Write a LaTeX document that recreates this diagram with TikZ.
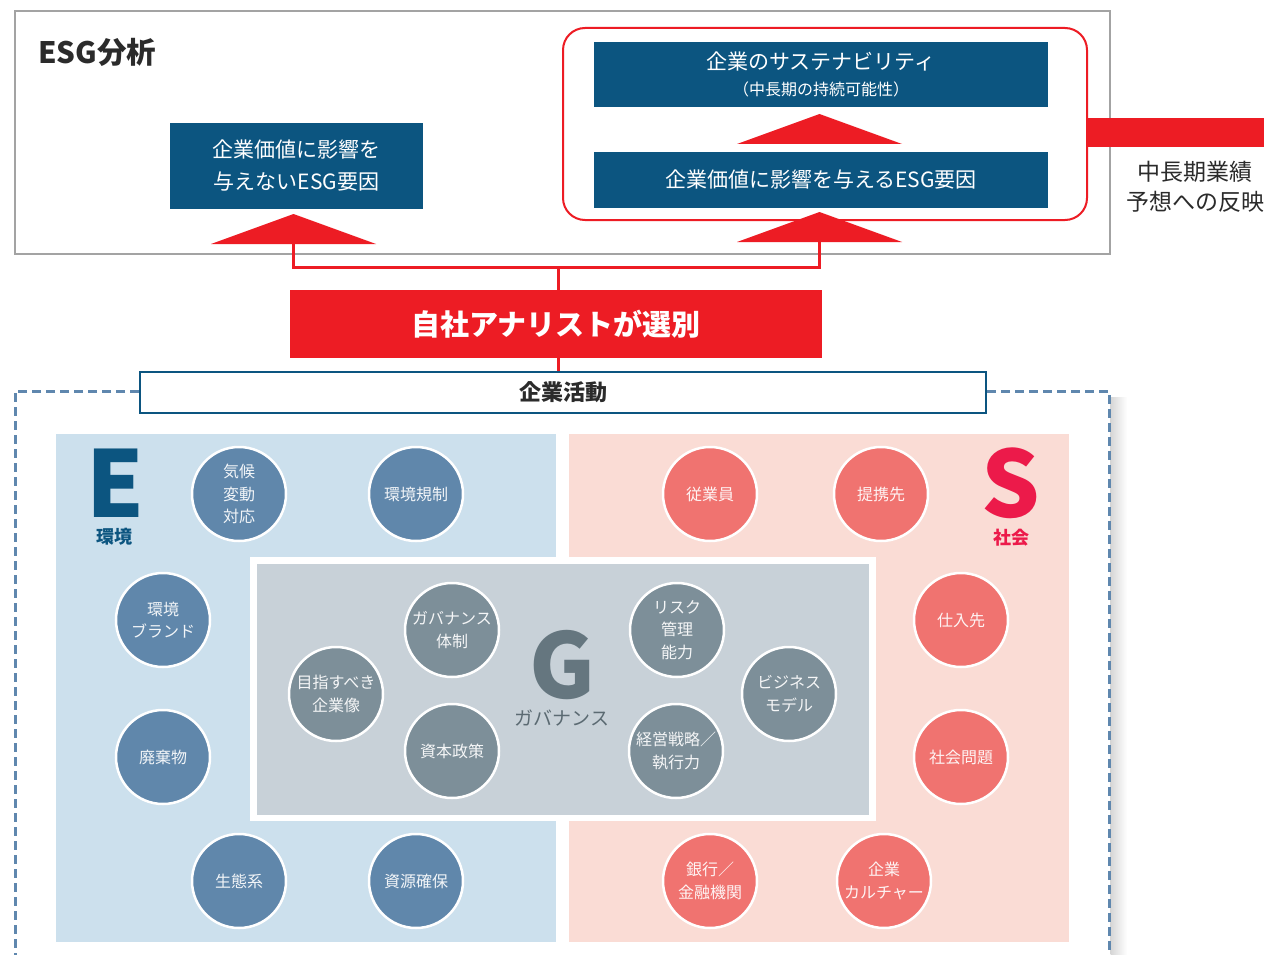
\documentclass[tikz,border=0pt]{standalone}
\usepackage{fontspec}
\setmainfont{Noto Sans CJK JP}
\definecolor{colNavy}{HTML}{0C5580}
\definecolor{colRed}{HTML}{ED1C24}
\definecolor{colFrame}{HTML}{A3A3A3}
\definecolor{colEbg}{HTML}{CCE0ED}
\definecolor{colEc}{HTML}{6087AB}
\definecolor{colSbg}{HTML}{FADCD5}
\definecolor{colSc}{HTML}{F07370}
\definecolor{colGbg}{HTML}{C8D1D8}
\definecolor{colGc}{HTML}{7D8F99}
\definecolor{colGl}{HTML}{65767F}
\definecolor{colSl}{HTML}{EC1A4A}
\definecolor{colDash}{HTML}{5F87AE}
\definecolor{colText}{HTML}{2B2B2B}
\begin{document}
\begin{tikzpicture}[x=1pt,y=-1pt,
  navybox/.style={fill=colNavy, text=white, inner sep=0pt, align=center, font=\fontsize{21}{32}\selectfont},
  circ/.style={circle, draw=white, line width=2.5pt, minimum size=94pt, inner sep=0pt, align=center, font=\fontsize{16}{22.5}\selectfont},
  ecircle/.style={circ, fill=colEc, text=white!92!colEc},
  scircle/.style={circ, fill=colSc, text=white!92!colSc},
  gcircle/.style={circ, fill=colGc, text=white!92!colGc},
  redline/.style={colRed, line width=3pt},
  dashline/.style={colDash, line width=3pt, dash pattern=on 9pt off 5pt}
]
\useasboundingbox (0,0) rectangle (1264,955);
\fill[white] (0,0) rectangle (1264,955);

% top area
\node[draw=colFrame, line width=2.5pt, minimum width=1095pt, minimum height=243pt, inner sep=0pt] (outer) at (562.5,132.5) {};
\node[anchor=west, font=\bfseries\fontsize{29.5}{29.5}\selectfont, text=colText, inner sep=0pt] (title) at (38,52) {ESG分析};
\node[draw=colRed, line width=2pt, rounded corners=22pt, minimum width=524pt, minimum height=192pt, inner sep=0pt] (redframe) at (825,124) {};
\node[navybox, minimum width=253pt, minimum height=86pt] (leftbox) at (296.5,166) {企業価値に影響を\\与えないESG要因};
\node[navybox, minimum width=454pt, minimum height=65pt] (topbox) at (821,74.5) {\fontsize{21}{21}\selectfont 企業のサステナビリティ\\[-6pt]\fontsize{16}{16}\selectfont （中長期の持続可能性）};
\node[navybox, minimum width=454pt, minimum height=56pt] (lowbox) at (821,180) {企業価値に影響を与えるESG要因};

% arrowheads
\fill[colRed] (211,244) -- (293.5,214) -- (376,244) -- cycle;
\fill[colRed] (737,144) -- (819.5,114) -- (902,144) -- cycle;
\fill[colRed] (737,242) -- (819.5,212) -- (902,242) -- cycle;

% right bar
\coordinate (barend) at (1264,132.5);
\draw[colRed, line width=29pt] (redframe.east |- barend) -- (barend);
\node[align=center, font=\fontsize{23}{30}\selectfont, text=colText, inner sep=0pt] (reflect) at (1195,187) {中長期業績\\予想への反映};

% selection
\node[fill=colRed, text=white, font=\bfseries\fontsize{29}{29}\selectfont, minimum width=532pt, minimum height=68pt, inner sep=0pt] (select) at (556,324) {自社アナリストが選別};
\node[draw=colNavy, line width=2pt, fill=white, minimum width=846pt, minimum height=41pt, inner sep=0pt, font=\bfseries\fontsize{22}{22}\selectfont, text=colText] (activity) at (563,392.5) {企業活動};

\coordinate (t1) at (293.5,244);
\coordinate (t3) at (819.5,242);
\coordinate (j) at (558.5,267);
\draw[redline] (t1) |- (j) -| (t3);
\draw[redline] (j) -- (j |- select.north);
\draw[redline] (select.south -| j) -- (activity.north -| j);

% dashed frame with shadow
\shade[left color=black!16, right color=white] (1110.5,397) rectangle (1127,955);
\coordinate (dl1) at (139,391);
\coordinate (dl2) at (15,391);
\coordinate (dl3) at (15,960);
\coordinate (dr1) at (987,391);
\coordinate (dr2) at (1109,391);
\coordinate (dr3) at (1109,960);
\draw[dashline] (dl1) -- (dl2) -- (dl3);
\draw[dashline] (dr1) -- (dr2) -- (dr3);

% panels
\fill[colEbg] (56,434) rectangle (556,942);
\fill[colSbg] (569,434) rectangle (1069,942);
\fill[white] (250,557) rectangle (876,821);
\fill[colGbg] (257,564) rectangle (869,815);

% letters
\node[font=\bfseries\fontsize{92}{92}\selectfont, text=colNavy, inner sep=0pt] (letE) at (115,483.5) {E};
\node[font=\bfseries\fontsize{18}{18}\selectfont, text=colNavy, inner sep=0pt] (labE) at (114,537) {環境};
\node[font=\bfseries\fontsize{92}{92}\selectfont, text=colSl, inner sep=0pt] (letS) at (1011,483.5) {S};
\node[font=\bfseries\fontsize{18}{18}\selectfont, text=colSl, inner sep=0pt] (labS) at (1011,538) {社会};
\node[font=\bfseries\fontsize{90}{90}\selectfont, text=colGl, inner sep=0pt] (letG) at (562,665) {G};
\node[font=\fontsize{19}{19}\selectfont, text=colGl!90!black, inner sep=0pt] (labG) at (562,718) {ガバナンス};

% E circles
\node[ecircle] (e1) at (239,494) {気候\\変動\\対応};
\node[ecircle] (e2) at (416,494) {環境規制};
\node[ecircle] (e3) at (163,620) {環境\\ブランド};
\node[ecircle] (e4) at (163,757) {廃棄物};
\node[ecircle] (e5) at (239,881) {生態系};
\node[ecircle] (e6) at (416,881) {資源確保};

% G circles
\node[gcircle] (g1) at (452,630) {ガバナンス\\体制};
\node[gcircle] (g2) at (336,694) {目指すべき\\企業像};
\node[gcircle] (g3) at (452,751) {資本政策};
\node[gcircle] (g4) at (677,630) {リスク\\管理\\能力};
\node[gcircle] (g5) at (789,694) {ビジネス\\モデル};
\node[gcircle] (g6) at (676,751) {経営戦略／\\執行力};

% S circles
\node[scircle] (s1) at (710,494) {従業員};
\node[scircle] (s2) at (881,494) {提携先};
\node[scircle] (s3) at (961,620) {仕入先};
\node[scircle] (s4) at (961,757) {社会問題};
\node[scircle] (s5) at (710,881) {銀行／\\金融機関};
\node[scircle] (s6) at (884,881) {企業\\カルチャー};
\end{tikzpicture}
\end{document}
